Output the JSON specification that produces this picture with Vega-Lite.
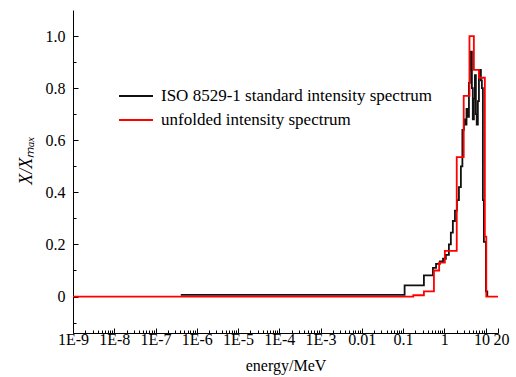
{
  "$schema": "https://vega.github.io/schema/vega-lite/v6.json",
  "width": 425,
  "height": 323,
  "autosize": {"type": "none"},
  "padding": {"left": 73, "top": 10, "right": 18, "bottom": 44},
  "background": "white",
  "config": {
    "view": {"stroke": null},
    "font": "Liberation Serif",
    "axis": {"labelFont": "Liberation Serif", "titleFont": "Liberation Serif", "labelFontSize": 16, "titleFontSize": 16},
    "style": {"guide-label": {"font": "Liberation Serif", "fontSize": 16, "fill": "black"}}
  },
  "datasets": {
    "spec": [
      {"series": "ISO 8529-1 standard intensity spectrum", "e": 4.1e-7, "v": 0.006},
      {"series": "ISO 8529-1 standard intensity spectrum", "e": 0.109, "v": 0.043},
      {"series": "ISO 8529-1 standard intensity spectrum", "e": 0.32, "v": 0.081},
      {"series": "ISO 8529-1 standard intensity spectrum", "e": 0.53, "v": 0.11},
      {"series": "ISO 8529-1 standard intensity spectrum", "e": 0.63, "v": 0.125},
      {"series": "ISO 8529-1 standard intensity spectrum", "e": 0.78, "v": 0.135},
      {"series": "ISO 8529-1 standard intensity spectrum", "e": 0.93, "v": 0.145},
      {"series": "ISO 8529-1 standard intensity spectrum", "e": 1.09, "v": 0.16},
      {"series": "ISO 8529-1 standard intensity spectrum", "e": 1.29, "v": 0.2},
      {"series": "ISO 8529-1 standard intensity spectrum", "e": 1.44, "v": 0.245},
      {"series": "ISO 8529-1 standard intensity spectrum", "e": 1.61, "v": 0.29},
      {"series": "ISO 8529-1 standard intensity spectrum", "e": 1.81, "v": 0.33},
      {"series": "ISO 8529-1 standard intensity spectrum", "e": 2.02, "v": 0.37},
      {"series": "ISO 8529-1 standard intensity spectrum", "e": 2.26, "v": 0.42},
      {"series": "ISO 8529-1 standard intensity spectrum", "e": 2.52, "v": 0.5},
      {"series": "ISO 8529-1 standard intensity spectrum", "e": 2.74, "v": 0.64},
      {"series": "ISO 8529-1 standard intensity spectrum", "e": 2.98, "v": 0.68},
      {"series": "ISO 8529-1 standard intensity spectrum", "e": 3.2, "v": 0.66},
      {"series": "ISO 8529-1 standard intensity spectrum", "e": 3.45, "v": 0.72},
      {"series": "ISO 8529-1 standard intensity spectrum", "e": 3.73, "v": 0.69},
      {"series": "ISO 8529-1 standard intensity spectrum", "e": 3.95, "v": 0.82},
      {"series": "ISO 8529-1 standard intensity spectrum", "e": 4.17, "v": 0.87},
      {"series": "ISO 8529-1 standard intensity spectrum", "e": 4.4, "v": 0.94},
      {"series": "ISO 8529-1 standard intensity spectrum", "e": 4.66, "v": 0.8},
      {"series": "ISO 8529-1 standard intensity spectrum", "e": 4.9, "v": 0.68},
      {"series": "ISO 8529-1 standard intensity spectrum", "e": 5.21, "v": 0.76},
      {"series": "ISO 8529-1 standard intensity spectrum", "e": 5.5, "v": 0.85},
      {"series": "ISO 8529-1 standard intensity spectrum", "e": 5.82, "v": 0.7},
      {"series": "ISO 8529-1 standard intensity spectrum", "e": 6.1, "v": 0.66},
      {"series": "ISO 8529-1 standard intensity spectrum", "e": 6.5, "v": 0.75},
      {"series": "ISO 8529-1 standard intensity spectrum", "e": 6.9, "v": 0.84},
      {"series": "ISO 8529-1 standard intensity spectrum", "e": 7.28, "v": 0.87},
      {"series": "ISO 8529-1 standard intensity spectrum", "e": 7.7, "v": 0.83},
      {"series": "ISO 8529-1 standard intensity spectrum", "e": 8.13, "v": 0.8},
      {"series": "ISO 8529-1 standard intensity spectrum", "e": 8.6, "v": 0.37},
      {"series": "ISO 8529-1 standard intensity spectrum", "e": 9.09, "v": 0.21},
      {"series": "ISO 8529-1 standard intensity spectrum", "e": 10.2, "v": 0.02},
      {"series": "ISO 8529-1 standard intensity spectrum", "e": 11, "v": 0},
      {"series": "unfolded intensity spectrum", "e": 1e-9, "v": 0},
      {"series": "unfolded intensity spectrum", "e": 0.177, "v": 0.005},
      {"series": "unfolded intensity spectrum", "e": 0.32, "v": 0.02},
      {"series": "unfolded intensity spectrum", "e": 0.56, "v": 0.1},
      {"series": "unfolded intensity spectrum", "e": 0.75, "v": 0.13},
      {"series": "unfolded intensity spectrum", "e": 1.03, "v": 0.175},
      {"series": "unfolded intensity spectrum", "e": 2.0, "v": 0.535},
      {"series": "unfolded intensity spectrum", "e": 2.95, "v": 0.77},
      {"series": "unfolded intensity spectrum", "e": 4.07, "v": 1.0},
      {"series": "unfolded intensity spectrum", "e": 5.2, "v": 0.87},
      {"series": "unfolded intensity spectrum", "e": 6.9, "v": 0.84},
      {"series": "unfolded intensity spectrum", "e": 9.6, "v": 0.23},
      {"series": "unfolded intensity spectrum", "e": 10.4, "v": 0},
      {"series": "unfolded intensity spectrum", "e": 20, "v": 0}
    ]
  },
  "data": {"name": "spec"},
  "encoding": {
    "x": {
      "field": "e", "type": "quantitative",
      "scale": {"type": "log", "domain": [1e-9, 20], "nice": false},
      "axis": {
        "title": "energy/MeV",
        "grid": false,
        "domainColor": "black",
        "tickColor": "black",
        "labelColor": "black",
        "titleColor": "black",
        "labelFont": "Liberation Serif",
        "labelFontSize": 16,
        "titleFont": "Liberation Serif",
        "titleFontSize": 16,
        "titleFontWeight": "normal",
        "values": [1e-9,2e-9,3e-9,4e-9,5e-9,6e-9,7e-9,8e-9,9e-9,1e-8,2e-8,3e-8,4e-8,5e-8,6e-8,7e-8,8e-8,9e-8,1e-7,2e-7,3e-7,4e-7,5e-7,6e-7,7e-7,8e-7,9e-7,1e-6,2e-6,3e-6,4e-6,5e-6,6e-6,7e-6,8e-6,9e-6,1e-5,2e-5,3e-5,4e-5,5e-5,6e-5,7e-5,8e-5,9e-5,1e-4,2e-4,3e-4,4e-4,5e-4,6e-4,7e-4,8e-4,9e-4,1e-3,2e-3,3e-3,4e-3,5e-3,6e-3,7e-3,8e-3,9e-3,0.01,0.02,0.03,0.04,0.05,0.06,0.07,0.08,0.09,0.1,0.2,0.3,0.4,0.5,0.6,0.7,0.8,0.9,1,2,3,4,5,6,7,8,9,10,20],
        "labelExpr": "datum.value == 20 ? '20' : (abs(log(datum.value)/LN10 - round(log(datum.value)/LN10)) < 1e-6 ? (datum.value < 0.005 ? '1E' + round(log(datum.value)/LN10) : '' + datum.value) : '')",
        "labelOffset": {"condition": [{"test": "datum.value == 10", "value": -4}, {"test": "datum.value == 20", "value": 3}], "value": 0},
        "tickSize": {"condition": {"test": "abs(log(datum.value)/LN10 - round(log(datum.value)/LN10)) < 1e-6 || datum.value == 20", "value": -5}, "value": -3},
        "labelPadding": 3,
        "labelFlush": false,
        "labelOverlap": false,
        "titlePadding": 8
      }
    },
    "y": {
      "field": "v", "type": "quantitative",
      "scale": {"domain": [-0.14, 1.1], "nice": false, "zero": false},
      "axis": {
        "title": "X/Xₘₐₓ",
        "grid": false,
        "domainColor": "black",
        "tickColor": "black",
        "labelColor": "black",
        "titleColor": "black",
        "labelFont": "Liberation Serif",
        "labelFontSize": 16,
        "titleFont": "Liberation Serif",
        "titleFontSize": 18,
        "titleFontWeight": "normal",
        "titleFontStyle": "italic",
        "titleY": 150,
        "values": [-0.1,0,0.1,0.2,0.3,0.4,0.5,0.6,0.7,0.8,0.9,1.0],
        "labelExpr": "datum.value < -0.01 ? '' : (abs(datum.value*5 - round(datum.value*5)) < 1e-6 ? (datum.value == 0 ? '0' : format(datum.value, '.1f')) : '')",
        "tickSize": {"condition": {"test": "abs(datum.value*5 - round(datum.value*5)) < 1e-6", "value": -5}, "value": -3},
        "labelPadding": 13,
        "labelOverlap": false,
        "titlePadding": 10
      }
    },
    "color": {
      "field": "series", "type": "nominal",
      "scale": {"domain": ["ISO 8529-1 standard intensity spectrum", "unfolded intensity spectrum"], "range": ["#111111", "#ff0000"]},
      "legend": {
        "title": null,
        "orient": "none",
        "legendX": 45,
        "legendY": 74,
        "symbolType": "stroke",
        "symbolSize": 1156,
        "symbolStrokeWidth": 2,
        "labelFontSize": 17,
        "labelFont": "Liberation Serif",
        "labelColor": "black",
        "labelLimit": 400,
        "labelOffset": 7,
        "clipHeight": 24,
        "rowPadding": 0,
        "padding": 0
      }
    }
  },
  "layer": [
    {
      "transform": [{"filter": "datum.series == 'ISO 8529-1 standard intensity spectrum'"}],
      "mark": {"type": "line", "interpolate": "step-after", "strokeWidth": 1.8}
    },
    {
      "transform": [{"filter": "datum.series == 'unfolded intensity spectrum'"}],
      "mark": {"type": "line", "interpolate": "step-after", "strokeWidth": 1.8}
    }
  ]
}
